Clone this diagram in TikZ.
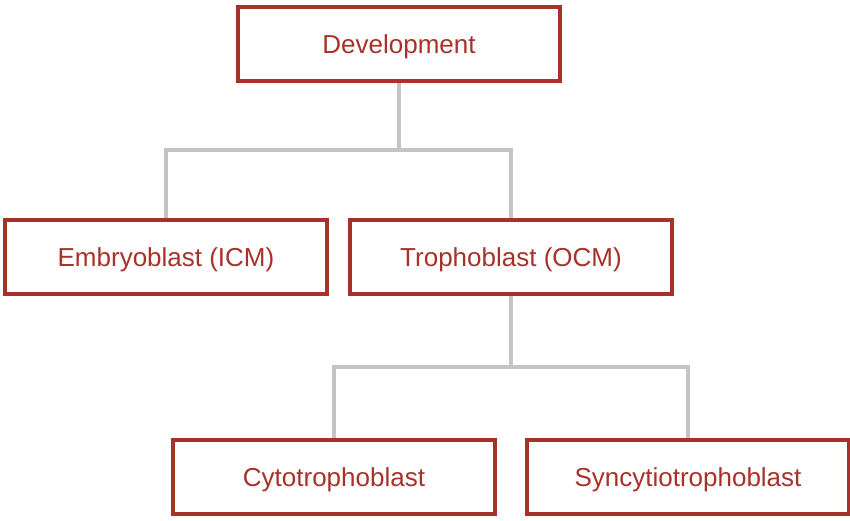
\documentclass[tikz,border=0pt]{standalone}
\usepackage{fontspec}
\setmainfont{Liberation Sans}
\usetikzlibrary{positioning}

\definecolor{boxred}{HTML}{A8322A}
\definecolor{linkgray}{HTML}{C4C4C4}

\begin{document}
\begin{tikzpicture}[x=0.75pt,y=-0.75pt,
                    main node/.style={rectangle,draw=boxred,fill=white,line width=2.8pt,
                      text=boxred,font=\fontsize{19.5}{23}\selectfont,
                      text height=15pt,text depth=1pt,
                      minimum width=241pt,minimum height=56pt,inner sep=0pt},
                    link/.style={draw=linkgray,line width=2.6pt}]
  \useasboundingbox (0,0) rectangle (850,521);

  \node[main node] (dev) at (399,44) {Development};
  \node[main node] (emb) at (166,257) {Embryoblast (ICM)};
  \node[main node] (tro) at (511,257) {Trophoblast (OCM)};
  \node[main node] (cyt) at (334,477) {Cytotrophoblast};
  \node[main node] (syn) at (688,477) {Syncytiotrophoblast};

  \coordinate (split1) at (399,150);
  \coordinate (split2) at (511,367);

  \path[link]
    (dev.south) -- (split1)
    (split1) -| (emb.north)
    (split1) -| (tro.north)
    (tro.south) -- (split2)
    (split2) -| (cyt.north)
    (split2) -| (syn.north);

\end{tikzpicture}
\end{document}
